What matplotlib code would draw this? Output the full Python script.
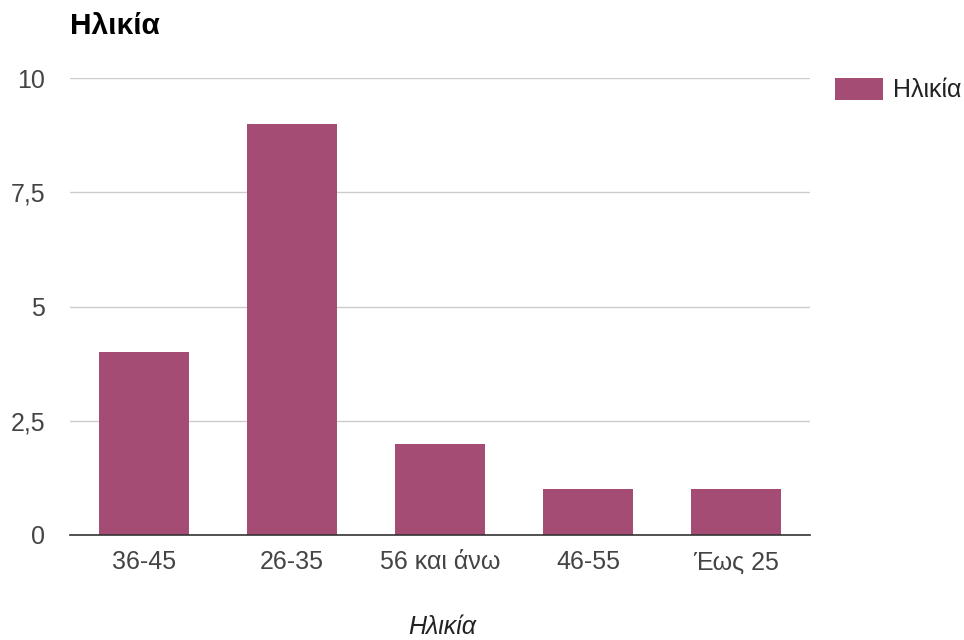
import matplotlib
matplotlib.use("Agg")
import matplotlib.pyplot as plt
from matplotlib.ticker import FixedLocator, FuncFormatter

plt.rcParams['font.family'] = ['Liberation Sans', 'DejaVu Sans']

categories = ["36-45", "26-35", "56 και άνω", "46-55", "Έως 25"]
counts = [4, 9, 2, 1, 1]
y_ticks = [0, 2.5, 5, 7.5, 10]
series_name = "Ηλικία"
title = "Ηλικία"
x_label = "Ηλικία"

bar_color = "#A44C74"
label_size = 18

fig = plt.figure(figsize=(9.64, 6.4), dpi=100)
ax = fig.add_axes([70 / 964, 1 - 535 / 640, 740 / 964, (535 - 78) / 640])

x = range(len(categories))
ax.bar(x, counts, width=0.61, color=bar_color, label=series_name, zorder=3)

ax.set_xlim(-0.5, len(categories) - 0.5)
ax.set_ylim(0, 10)
ax.yaxis.set_major_locator(FixedLocator(y_ticks))
ax.yaxis.set_major_formatter(FuncFormatter(lambda v, _: (f"{v:g}").replace(".", ",")))
ax.set_xticks(list(x))
ax.set_xticklabels(categories)

ax.grid(axis='y', color='#cccccc', linewidth=1, zorder=0)
for s in ['top', 'right', 'left']:
    ax.spines[s].set_visible(False)
ax.spines['bottom'].set_color('#333333')
ax.spines['bottom'].set_linewidth(1.2)
ax.spines['bottom'].set_zorder(4)

ax.tick_params(axis='both', length=0, labelsize=label_size, colors='#444444')
ax.tick_params(axis='y', pad=18)
ax.tick_params(axis='x', pad=11)

fig.text(70 / 964, 1 - 34 / 640, title, fontsize=21.5, fontweight='bold',
         color='#000000', ha='left', va='baseline')

fig.text(442 / 964, 1 - 634 / 640, x_label, fontsize=label_size, style='italic',
         color='#222222', ha='center', va='baseline')

leg = ax.legend(loc='upper left', bbox_to_anchor=(835 / 964, 1 - 78 / 640),
                bbox_transform=fig.transFigure, frameon=False, fontsize=label_size,
                handlelength=1.92, handleheight=0.96, handletextpad=0.4,
                borderaxespad=0, borderpad=0)
for t in leg.get_texts():
    t.set_color('#222222')

fig.savefig("out.png", dpi=100)
